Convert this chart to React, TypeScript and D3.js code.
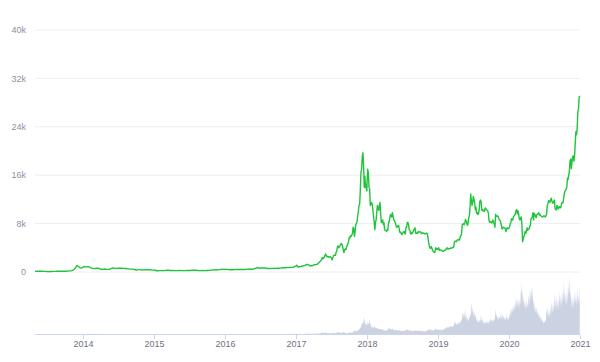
import React from 'react';
import * as d3 from 'd3';

// BTC price (USD), evenly spaced samples within each year
const price2013 = [135, 112, 117, 122, 130, 120, 103, 100, 104, 88, 70, 97, 92, 99, 105, 106, 113, 122, 140, 123, 125, 125, 137, 123, 140, 180, 190, 224, 320, 460, 800, 1080, 900, 690, 630, 750];
const price2014 = [900, 860, 840, 880, 830, 690, 630, 560, 560, 620, 630, 580, 470, 450, 420, 500, 460, 440, 440, 450, 580, 650, 650, 590, 600, 640, 630, 620, 620, 595, 590, 585, 520, 510, 480, 475, 475, 405, 375, 320, 390, 385, 355, 325, 360, 385, 375, 375, 375, 345, 320, 315];
const price2015 = [315, 285, 210, 215, 230, 225, 220, 235, 240, 275, 290, 285, 250, 245, 255, 235, 225, 225, 235, 240, 240, 235, 230, 225, 230, 245, 250, 260, 270, 290, 285, 285, 280, 270, 230, 225, 230, 240, 230, 235, 240, 245, 265, 285, 315, 360, 390, 330, 325, 355, 390, 415, 450, 440, 430];
const price2016 = [435, 450, 385, 385, 380, 375, 380, 400, 435, 425, 415, 415, 410, 415, 420, 425, 440, 460, 450, 455, 445, 445, 530, 575, 690, 740, 620, 670, 650, 665, 650, 655, 590, 575, 575, 575, 605, 605, 610, 605, 610, 615, 640, 655, 700, 720, 710, 740, 730, 735, 760, 770, 790, 900, 960];
const price2017 = [1000, 1130, 900, 800, 830, 900, 920, 890, 920, 1000, 1010, 1000, 1050, 1060, 1120, 1190, 1180, 1270, 1230, 1190, 1100, 1000, 970, 1040, 1040, 1070, 1100, 1180, 1190, 1200, 1220, 1250, 1260, 1350, 1450, 1560, 1700, 1780, 1900, 2100, 2400, 2200, 2250, 2500, 2700, 2980, 2700, 2500, 2600, 2550, 2450, 2500, 2550, 2400, 2350, 2000, 2300, 2750, 2750, 2800, 2750, 3250, 3400, 4100, 4300, 4000, 4150, 4350, 4600, 4700, 4600, 4200, 3700, 3200, 3700, 3800, 3700, 4200, 4400, 4600, 5000, 5700, 5600, 6000, 5900, 6100, 6400, 7400, 7200, 5900, 6600, 7800, 8000, 8300, 9300, 10000, 11000, 11200, 13500, 16500, 17000, 19100, 19700, 17500, 14000, 15800, 13900, 14500, 13400];
const price2018 = [14700, 17000, 16400, 14000, 13800, 11000, 11200, 11500, 11200, 10300, 9200, 8300, 7000, 8200, 8600, 10000, 11000, 10400, 10200, 11000, 11500, 9500, 8200, 8300, 8600, 7900, 8200, 7000, 6900, 6800, 6700, 7000, 6900, 8000, 8300, 8900, 9500, 9300, 9100, 9800, 9300, 8700, 8500, 8300, 8000, 7500, 7400, 7500, 7700, 7600, 6700, 6500, 6600, 6300, 6200, 6400, 6600, 6700, 6400, 6300, 7400, 7400, 8200, 8200, 7800, 7000, 6900, 6300, 6300, 6500, 6400, 6700, 7000, 7000, 7300, 6400, 6400, 6500, 6400, 6700, 6600, 6600, 6600, 6600, 6300, 6400, 6500, 6400, 6400, 6300, 6300, 6400, 6400, 6300, 5600, 4800, 4300, 3900, 4000, 4200, 3900, 3600, 3400, 3300, 3200, 3500, 4000, 3900, 3700, 3800];
const price2019 = [3850, 4000, 3600, 3600, 3650, 3600, 3550, 3450, 3400, 3500, 3600, 3600, 3700, 3900, 4000, 3800, 3850, 3800, 3900, 3900, 4000, 3950, 4000, 4050, 4100, 4900, 5100, 5100, 5000, 5250, 5300, 5300, 5400, 5300, 5800, 6000, 6300, 7800, 7900, 8000, 7800, 8100, 8700, 8500, 8000, 7700, 8100, 9000, 9300, 10800, 12900, 11800, 11000, 11500, 12500, 12000, 11400, 10300, 10700, 9700, 9800, 9500, 9600, 10400, 11700, 11900, 11500, 10200, 10300, 10100, 10200, 10000, 10600, 10500, 10300, 10200, 10100, 9700, 8500, 8200, 8300, 8300, 8100, 8300, 8600, 8100, 8000, 7400, 9500, 9300, 9200, 9300, 9100, 8800, 8600, 8500, 8100, 7600, 7100, 7300, 7400, 7300, 7300, 7100, 6700, 7200, 7300, 7200, 7200];
const price2020 = [7200, 7400, 8000, 8100, 8800, 8700, 8600, 9100, 9300, 9400, 9700, 10200, 10300, 9600, 10100, 9600, 8800, 8600, 8900, 9100, 7900, 5000, 5400, 5800, 6200, 6700, 6400, 6800, 7300, 6900, 7100, 7100, 7500, 7700, 8800, 8900, 9100, 9800, 8600, 9700, 9500, 9200, 9000, 9500, 9500, 9700, 9800, 9400, 9500, 9300, 9200, 9100, 9100, 9200, 9300, 9200, 9100, 9300, 9600, 11000, 11300, 11800, 11700, 11500, 11900, 12200, 11800, 11400, 11400, 11700, 11900, 10500, 10300, 10300, 11000, 10900, 10400, 10700, 10800, 10600, 10700, 11400, 11500, 11400, 12000, 12900, 13300, 13500, 13700, 14000, 15500, 15300, 16000, 16700, 18400, 18700, 17100, 18200, 19000, 19200, 18300, 19300, 21300, 23200, 22700, 23800, 26500, 27000, 28900, 29100];

// 24h volume (billion USD)
const volumeEarly = [0.05, 0.08, 0.04, 0.03, 0.05, 0.1, 0.3, 0.15, 0.08, 0.05, 0.04, 0.03, 0.02, 0.03, 0.05, 0.04, 0.03, 0.05, 0.06, 0.05, 0.07, 0.08, 0.1, 0.12, 0.1, 0.12, 0.15, 0.2];
const volume2017 = [0.2, 0.3, 0.15, 0.1, 0.15, 0.1, 0.1, 0.1, 0.1, 0.1, 0.15, 0.1, 0.1, 0.15, 0.2, 0.2, 0.25, 0.3, 0.4, 0.3, 0.5, 0.4, 0.3, 0.3, 0.2, 0.25, 0.3, 0.35, 0.3, 0.3, 0.35, 0.4, 0.4, 0.5, 0.6, 0.7, 0.8, 1.0, 1.2, 1.5, 2.0, 1.6, 1.4, 1.3, 1.6, 2.0, 1.5, 1.2, 1.1, 1.0, 1.0, 0.9, 0.8, 0.9, 1.1, 1.3, 1.5, 1.4, 1.0, 0.9, 1.1, 1.3, 2.0, 2.7, 2.4, 1.9, 1.7, 1.6, 1.8, 1.7, 1.5, 2.3, 2.9, 2.6, 1.4, 1.0, 1.1, 1.0, 1.2, 1.3, 1.6, 2.4, 1.8, 1.5, 2.0, 1.9, 2.3, 3.0, 3.5, 5.5, 4.5, 3.0, 3.5, 4.5, 5.0, 6.0, 6.5, 9.0, 8.0, 13.0, 16.0, 12.0, 17.0, 22.0, 15.0, 12.0, 14.0, 10.0];
const volume2018 = [11, 16, 14, 12, 20, 13, 11, 9, 10, 8, 9, 8, 11, 8, 7, 8, 9, 7, 6, 7, 6, 7, 6, 7, 5, 6, 5, 4.5, 4.5, 4.5, 4.8, 4.5, 6.0, 7.5, 6.5, 8.0, 7.0, 6.0, 6.0, 7.0, 6.5, 5.5, 5.0, 5.0, 5.5, 5.0, 4.5, 4.5, 4.8, 4.5, 5.0, 4.2, 4.0, 4.0, 4.3, 4.0, 4.0, 4.2, 3.9, 4.5, 5.0, 5.5, 6.0, 5.5, 4.8, 4.8, 4.2, 4.5, 4.6, 4.2, 4.0, 3.9, 4.0, 4.2, 4.5, 4.8, 4.2, 4.3, 4.0, 4.1, 4.5, 4.2, 4.0, 4.2, 3.9, 3.8, 3.6, 3.5, 3.5, 3.4, 3.5, 3.6, 3.8, 4.5, 5.5, 6.0, 6.5, 5.5, 5.0, 5.5, 5.0, 4.8, 4.5, 4.9, 5.5, 6.5, 7.0, 6.0, 5.5, 5.2];
const volume2019 = [5.5, 6.5, 5.0, 5.8, 5.0, 6.2, 5.2, 5.6, 5.0, 7.0, 6.0, 8.5, 6.5, 9.5, 7.5, 10.5, 8.0, 10.0, 8.5, 11.0, 9.0, 10.5, 8.5, 11.5, 10.0, 17.0, 12.0, 16.0, 11.0, 14.5, 12.0, 15.5, 12.5, 16.0, 14.0, 20.0, 16.0, 29.0, 20.0, 28.0, 22.0, 32.0, 20.0, 24.0, 17.0, 22.0, 16.0, 23.0, 19.0, 28.0, 24.0, 42.0, 28.0, 34.0, 22.0, 30.0, 20.0, 26.0, 17.0, 21.0, 15.0, 18.0, 14.0, 19.0, 16.0, 25.0, 17.0, 21.0, 14.0, 17.0, 13.0, 16.0, 13.0, 18.0, 13.5, 16.0, 13.0, 17.0, 15.0, 22.0, 15.0, 19.0, 15.0, 20.0, 16.0, 21.0, 17.0, 33.0, 22.0, 26.0, 19.0, 24.0, 18.0, 23.0, 19.0, 26.0, 20.0, 28.0, 20.0, 24.0, 18.0, 22.0, 17.0, 26.0, 19.0, 23.0, 17.0, 21.0];
const volume2020 = [20, 27, 22, 33, 26, 38, 27, 36, 29, 40, 32, 50, 36, 47, 35, 44, 32, 46, 38, 66, 52, 58, 38, 50, 34, 44, 33, 46, 32, 42, 35, 52, 38, 58, 44, 64, 45, 58, 38, 47, 30, 38, 27, 36, 24, 31, 22, 29, 20, 25, 17, 22, 15, 19, 13, 18, 14, 20, 16, 34, 24, 36, 22, 32, 21, 36, 24, 44, 26, 40, 28, 55, 32, 46, 30, 52, 33, 48, 30, 58, 36, 50, 34, 56, 40, 68, 42, 60, 38, 54, 36, 62, 40, 66, 48, 76, 44, 58, 36, 50, 32, 46, 34, 58, 40, 52, 36, 62, 38, 50, 40, 64];

const yTicks = [0, 8000, 16000, 24000, 32000, 40000];
const yearTicks = ['2014', '2015', '2016', '2017', '2018', '2019', '2020', '2021'];

type Point = { date: Date; value: number };

// spread a year's samples evenly between its first and last date
function spread(start: string, end: string, values: number[]): Point[] {
  const t0 = new Date(start).getTime();
  const t1 = new Date(end).getTime();
  return values.map((v, i) => ({
    date: new Date(t0 + ((t1 - t0) * i) / (values.length - 1)),
    value: v,
  }));
}

const priceData: Point[] = [
  ...spread('2013-04-28', '2013-12-29', price2013),
  ...spread('2014-01-05', '2014-12-28', price2014),
  ...spread('2015-01-01', '2015-12-30', price2015),
  ...spread('2016-01-01', '2016-12-30', price2016),
  ...spread('2017-01-01', '2017-12-31', price2017),
  ...spread('2018-01-01', '2018-12-31', price2018),
  ...spread('2019-01-01', '2019-12-31', price2019),
  ...spread('2020-01-01', '2020-12-31', price2020),
];

const volumeData: Point[] = [
  ...spread('2013-04-28', '2016-12-30', volumeEarly),
  ...spread('2017-01-01', '2017-12-31', volume2017),
  ...spread('2018-01-01', '2018-12-31', volume2018),
  ...spread('2019-01-01', '2019-12-31', volume2019),
  ...spread('2020-01-01', '2020-12-31', volume2020),
];

const W = 600;
const H = 362;
const left = 35;
const right = 580;
const font = '"Liberation Sans", Arial, sans-serif';

export default function App() {
  const x = d3
    .scaleTime()
    .domain([new Date('2013-04-28'), new Date('2021-01-01')])
    .range([left, right]);
  const y = d3.scaleLinear().domain([0, 40000]).range([272, 30]);
  const yv = d3.scaleLinear().domain([0, 76]).range([334, 276]);

  const line = d3
    .line<Point>()
    .x((d) => x(d.date))
    .y((d) => y(d.value));
  const area = d3
    .area<Point>()
    .x((d) => x(d.date))
    .y0(yv(0))
    .y1((d) => yv(d.value));

  return (
    <svg
      width={W}
      height={H}
      style={{ position: 'absolute', left: 0, top: 0, background: '#fff' }}
    >
      {yTicks.map((t) => (
        <g key={t}>
          <line x1={left} x2={right} y1={y(t)} y2={y(t)} stroke="#eeeef2" strokeWidth={1} />
          <text
            x={26}
            y={y(t)}
            dy="0.35em"
            textAnchor="end"
            fontSize={9}
            fontFamily={font}
            fill="#8d8fa3"
          >
            {t === 0 ? '0' : `${t / 1000}k`}
          </text>
        </g>
      ))}
      <path d={area(volumeData) ?? ''} fill="#cbd2e2" stroke="none" />
      <path d={line(priceData) ?? ''} fill="none" stroke="#1fc43c" strokeWidth={1.4} strokeLinejoin="round" />
      <line x1={left} x2={right} y1={334.5} y2={334.5} stroke="#ccd6eb" strokeWidth={1} />
      {yearTicks.map((yr) => {
        const px = Math.round(x(new Date(`${yr}-01-01`))) + 0.5;
        return (
          <g key={yr}>
            <line x1={px} x2={px} y1={335} y2={339} stroke="#ccd6eb" strokeWidth={1} />
            <text
              x={px}
              y={344}
              dy="0.35em"
              textAnchor="middle"
              fontSize={9}
              fontFamily={font}
              fill="#6f7080"
            >
              {yr}
            </text>
          </g>
        );
      })}
    </svg>
  );
}
